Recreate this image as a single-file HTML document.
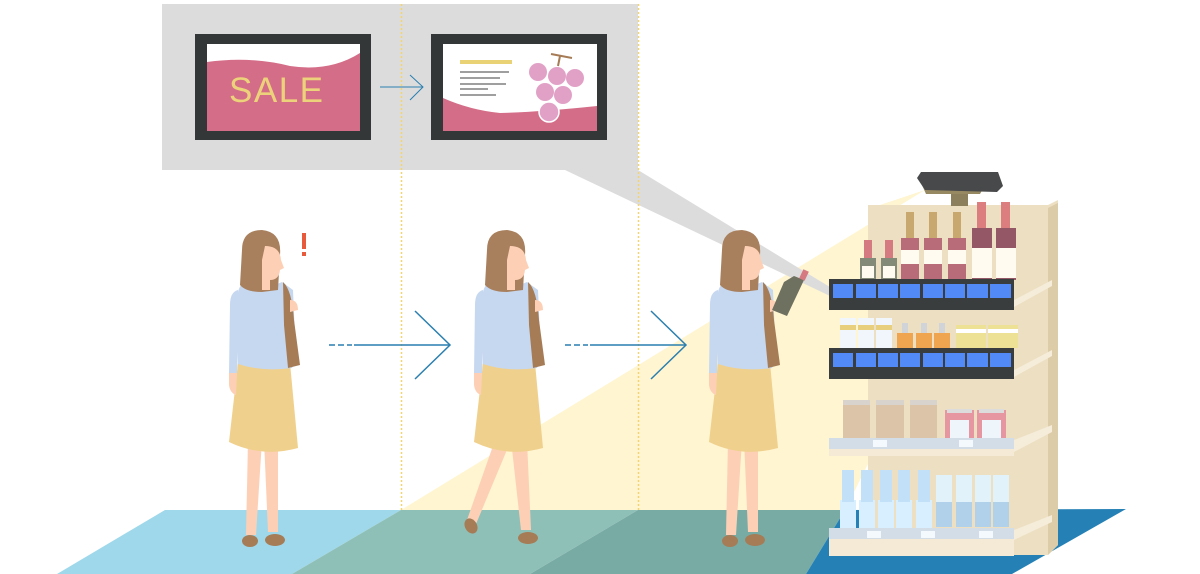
<!DOCTYPE html>
<html><head><meta charset="utf-8"><style>html,body{margin:0;padding:0;background:#fff}svg{display:block}</style></head>
<body>
<svg width="1200" height="574" viewBox="0 0 1200 574" xmlns="http://www.w3.org/2000/svg">
<defs>
<g id="legs">
  <path d="M248 440 L246 535 L256 535 L262 440 Z" fill="#fdd0b6"/>
  <path d="M264 440 L268 532 L278 532 L278 440 Z" fill="#fdd0b6"/>
  <ellipse cx="250" cy="541" rx="8" ry="6" fill="#a67c56"/>
  <ellipse cx="275" cy="540" rx="10" ry="6" fill="#a67c56"/>
</g>
<g id="wlegs">
  <path d="M250 440 L222 520 L231 524 L264 445 Z" fill="#fdd0b6"/>
  <path d="M266 440 L276 530 L286 530 L282 440 Z" fill="#fdd0b6"/>
  <ellipse cx="226" cy="526" rx="6" ry="8" fill="#a67c56" transform="rotate(-30 226 526)"/>
  <ellipse cx="283" cy="538" rx="10" ry="6" fill="#a67c56"/>
</g>
<g id="woman">
  <!-- skirt -->
  <path d="M238 363 L290 363 L298 448 Q262 458 229 442 Z" fill="#f0d08d"/>
  <!-- sweater -->
  <path d="M248 280 Q265 290 282 282 L293 290 L296 360 L292 368 Q262 372 238 364 L238 300 Q236 285 248 280 Z" fill="#c6d8f0"/>
  <path d="M238 290 Q230 292 230 305 L229 373 L237 373 L240 310 Z" fill="#c6d8f0"/>
  <path d="M229 373 L237 373 L236 395 Q230 393 229 385 Z" fill="#fdd0b6"/>
  <!-- bag -->
  <path d="M283 282 Q292 290 294 320 L300 365 L288 368 L284 325 Z" fill="#a67c56"/>
  <path d="M290 300 Q298 300 298 310 L290 312 Z" fill="#fdd0b6"/>
  <!-- head -->
  <path d="M242 250 Q242 230 262 230 Q282 232 280 255 L278 290 L262 292 Q246 292 240 285 Z" fill="#a8805e"/>
  <path d="M265 246 Q280 246 281 260 L284 268 L280 270 Q279 280 270 280 L270 290 L262 290 L262 260 Z" fill="#fdd0b6"/>
</g>
</defs>
<rect width="1200" height="574" fill="#fff"/>
<!-- floor -->
<polygon points="165,510 401,510 292,574 57,574" fill="#9fd8ea"/>
<polygon points="401,510 638,510 530,574 292,574" fill="#8fc0b8"/>
<polygon points="638,510 845,510 806,574 530,574" fill="#78aba4"/>
<polygon points="845,510 1126,509 1012,574 806,574" fill="#2581b5"/>
<!-- beam -->
<polygon points="925,190 401,510 845,510 880,440 880,205" fill="#fff4cc" opacity="0.9"/>
<!-- callout -->
<polygon points="565,170 638,170 838,292 830,296" fill="#dcdcdc"/>
<rect x="162" y="4" width="476" height="166" fill="#dcdcdc"/>
<line x1="401.5" y1="4" x2="401.5" y2="510" stroke="#f5d470" stroke-width="1.5" stroke-dasharray="2,2"/>
<line x1="638.5" y1="4" x2="638.5" y2="510" stroke="#f5d470" stroke-width="1.5" stroke-dasharray="2,2"/>
<!-- monitor 1 -->
<rect x="195" y="34" width="176" height="106" fill="#343738"/>
<rect x="207" y="44" width="153" height="87" fill="#d46d87"/>
<path d="M207 44 L360 44 L360 53 Q330 72 290 66 Q250 56 207 62 Z" fill="#fff"/>
<text x="229" y="102" font-family="Liberation Sans, sans-serif" font-size="35" fill="#ecd27a" letter-spacing="1.5">SALE</text>
<!-- monitor 2 -->
<rect x="431" y="34" width="176" height="106" fill="#343738"/>
<rect x="443" y="44" width="154" height="87" fill="#fff"/>
<path d="M443 98 Q470 110 500 113 Q540 112 597 106 L597 131 L443 131 Z" fill="#d46d87"/>
<rect x="460" y="60" width="52" height="4" fill="#e9d275"/>
<g stroke="#666" stroke-width="1.3"><line x1="460" y1="72" x2="509" y2="72"/><line x1="460" y1="78" x2="500" y2="78"/><line x1="460" y1="84" x2="506" y2="84"/><line x1="460" y1="89" x2="488" y2="89"/><line x1="460" y1="95" x2="496" y2="95"/></g>
<path d="M551 54 L572 58 M560 56 L558 66" stroke="#a67c56" stroke-width="2"/>
<g fill="#e1a1c6"><circle cx="538" cy="72" r="9"/><circle cx="557" cy="76" r="9"/><circle cx="575" cy="78" r="9"/><circle cx="545" cy="92" r="9"/><circle cx="563" cy="95" r="9"/><circle cx="549" cy="112" r="10" stroke="#fff" stroke-width="1.5"/></g>
<!-- small arrow -->
<line x1="380" y1="87" x2="423" y2="87" stroke="#2a7fb0" stroke-width="1"/>
<polyline points="410,75 423,87 410,100" fill="none" stroke="#2a7fb0" stroke-width="1"/>
<!-- big arrows -->
<g stroke="#2a7fb0" stroke-width="1.5" fill="none">
<line x1="329" y1="345" x2="352" y2="345" stroke-dasharray="6,3"/><line x1="354" y1="345" x2="450" y2="345"/>
<polyline points="415,311 450,345 415,379"/>
<line x1="565" y1="345" x2="588" y2="345" stroke-dasharray="6,3"/><line x1="590" y1="345" x2="686" y2="345"/>
<polyline points="651,311 686,345 651,379"/>
</g>
<!-- women -->
<use href="#legs"/>
<use href="#woman"/>
<rect x="302" y="233" width="4" height="16" fill="#e75a3c"/><rect x="302" y="252" width="4" height="4" fill="#e75a3c"/>
<use href="#wlegs" transform="translate(245,0)"/>
<use href="#woman" transform="translate(245,0)"/>
<use href="#legs" transform="translate(480,0)"/>
<use href="#woman" transform="translate(480,0)"/>
<path d="M772 310 L784 282 L794 276 L804 280 L787 316 Z" fill="#6e7060"/>
<rect x="801" y="270" width="6" height="10" fill="#d47a80" transform="rotate(25 804 275)"/>
<!-- shelf unit -->
<polygon points="868,205 1048,205 1058,200 1058,545 1048,555 868,555" fill="#ecdfc2"/>
<polygon points="1048,208 1058,203 1058,545 1048,555" fill="#dccca8"/>
<polygon points="1014,300 1052,280 1052,286 1014,307" fill="#f5ecd9"/>
<polygon points="1014,370 1052,350 1052,356 1014,377" fill="#f5ecd9"/>
<polygon points="1014,440 1052,425 1052,432 1014,452" fill="#f5ecd9"/>
<polygon points="1014,530 1052,515 1052,522 1014,540" fill="#f5ecd9"/>
<!-- projector -->
<rect x="951" y="190" width="17" height="16" fill="#8b7f5c"/>
<polygon points="922,185 985,185 980,194 926,194" fill="#978a63"/>
<polygon points="921,172 998,172 1003,186 997,192 925,190 917,178" fill="#48494a"/>
<!-- top bottles -->
<g>
<rect x="860" y="258" width="16" height="22" fill="#848a78"/><rect x="864" y="240" width="8" height="18" fill="#d47a80"/><rect x="862" y="266" width="12" height="12" fill="#fffbf0"/>
<rect x="881" y="258" width="16" height="22" fill="#848a78"/><rect x="885" y="240" width="8" height="18" fill="#d47a80"/><rect x="883" y="266" width="12" height="12" fill="#fffbf0"/>
<rect x="901" y="238" width="18" height="42" fill="#b86b78"/><rect x="906" y="212" width="8" height="26" fill="#c8a86f"/><rect x="901" y="250" width="18" height="14" fill="#fffbf0"/>
<rect x="924" y="238" width="18" height="42" fill="#b86b78"/><rect x="929" y="212" width="8" height="26" fill="#c8a86f"/><rect x="924" y="250" width="18" height="14" fill="#fffbf0"/>
<rect x="948" y="238" width="18" height="42" fill="#b86b78"/><rect x="953" y="212" width="8" height="26" fill="#c8a86f"/><rect x="948" y="250" width="18" height="14" fill="#fffbf0"/>
<rect x="972" y="228" width="20" height="52" fill="#935766"/><rect x="977" y="202" width="9" height="26" fill="#dc7e80"/><rect x="972" y="248" width="20" height="30" fill="#fffbf0"/>
<rect x="996" y="228" width="20" height="52" fill="#935766"/><rect x="1001" y="202" width="9" height="26" fill="#dc7e80"/><rect x="996" y="248" width="20" height="30" fill="#fffbf0"/>
</g>
<rect x="829" y="279" width="185" height="31" fill="#3a3d3e"/>
<g fill="#528bf8"><rect x="833" y="284" width="20" height="14"/><rect x="856" y="284" width="20" height="14"/><rect x="878" y="284" width="20" height="14"/><rect x="900" y="284" width="20" height="14"/><rect x="923" y="284" width="20" height="14"/><rect x="945" y="284" width="20" height="14"/><rect x="967" y="284" width="21" height="14"/><rect x="990" y="284" width="21" height="14"/></g>
<g>
<rect x="840" y="318" width="16" height="30" fill="#f0f6fb"/><rect x="840" y="325" width="16" height="5" fill="#e7cf7d"/>
<rect x="858" y="318" width="16" height="30" fill="#f0f6fb"/><rect x="858" y="325" width="16" height="5" fill="#e7cf7d"/>
<rect x="876" y="318" width="16" height="30" fill="#f0f6fb"/><rect x="876" y="325" width="16" height="5" fill="#e7cf7d"/>
<rect x="897" y="333" width="16" height="15" fill="#efa44f"/><rect x="902" y="323" width="6" height="10" fill="#d0d4d8"/>
<rect x="916" y="333" width="16" height="15" fill="#efa44f"/><rect x="921" y="323" width="6" height="10" fill="#d0d4d8"/>
<rect x="934" y="333" width="16" height="15" fill="#efa44f"/><rect x="939" y="323" width="6" height="10" fill="#d0d4d8"/>
<rect x="956" y="325" width="30" height="23" fill="#ede196"/><rect x="956" y="329" width="30" height="4" fill="#fff"/>
<rect x="988" y="325" width="30" height="23" fill="#ede196"/><rect x="988" y="329" width="30" height="4" fill="#fff"/>
</g>
<rect x="829" y="348" width="185" height="31" fill="#3a3d3e"/>
<g fill="#528bf8"><rect x="833" y="353" width="20" height="14"/><rect x="856" y="353" width="20" height="14"/><rect x="878" y="353" width="20" height="14"/><rect x="900" y="353" width="20" height="14"/><rect x="923" y="353" width="20" height="14"/><rect x="945" y="353" width="20" height="14"/><rect x="967" y="353" width="21" height="14"/><rect x="990" y="353" width="21" height="14"/></g>
<g>
<rect x="843" y="400" width="27" height="38" fill="#dbc4a8"/><rect x="843" y="400" width="27" height="5" fill="#d8d3cc"/>
<rect x="876" y="400" width="28" height="38" fill="#dbc4a8"/><rect x="876" y="400" width="28" height="5" fill="#d8d3cc"/>
<rect x="910" y="400" width="27" height="38" fill="#dbc4a8"/><rect x="910" y="400" width="27" height="5" fill="#d8d3cc"/>
<rect x="945" y="410" width="29" height="28" fill="#e596a0"/><rect x="950" y="420" width="19" height="18" fill="#eef6fc"/><rect x="947" y="409" width="25" height="4" fill="#dcdcdc"/>
<rect x="977" y="410" width="29" height="28" fill="#e596a0"/><rect x="982" y="420" width="19" height="18" fill="#eef6fc"/><rect x="979" y="409" width="25" height="4" fill="#dcdcdc"/>
</g>
<rect x="829" y="438" width="185" height="11" fill="#d3dde8"/>
<rect x="829" y="449" width="185" height="7" fill="#f5ead6"/>
<rect x="873" y="440" width="14" height="7" fill="#f4f9fd"/><rect x="959" y="440" width="14" height="7" fill="#f4f9fd"/>
<g>
<g fill="#d8efff"><rect x="840" y="500" width="16" height="28"/><rect x="859" y="500" width="16" height="28"/><rect x="878" y="500" width="16" height="28"/><rect x="896" y="500" width="16" height="28"/><rect x="916" y="500" width="16" height="28"/></g>
<g fill="#c2e1f8"><rect x="842" y="470" width="12" height="32"/><rect x="861" y="470" width="12" height="32"/><rect x="880" y="470" width="12" height="32"/><rect x="898" y="470" width="12" height="32"/><rect x="918" y="470" width="12" height="32"/></g>
<g fill="#e2f2fb"><rect x="936" y="475" width="16" height="27"/><rect x="956" y="475" width="16" height="27"/><rect x="975" y="475" width="16" height="27"/><rect x="993" y="475" width="16" height="27"/></g>
<g fill="#b1d0ea"><rect x="936" y="502" width="16" height="25"/><rect x="956" y="502" width="16" height="25"/><rect x="975" y="502" width="16" height="25"/><rect x="993" y="502" width="16" height="25"/></g>
</g>
<rect x="829" y="528" width="185" height="11" fill="#d3dde8"/>
<rect x="829" y="539" width="185" height="17" fill="#f5ead6"/>
<rect x="867" y="531" width="14" height="7" fill="#f4f9fd"/><rect x="921" y="531" width="14" height="7" fill="#f4f9fd"/><rect x="979" y="531" width="14" height="7" fill="#f4f9fd"/>
</svg>
</body></html>
